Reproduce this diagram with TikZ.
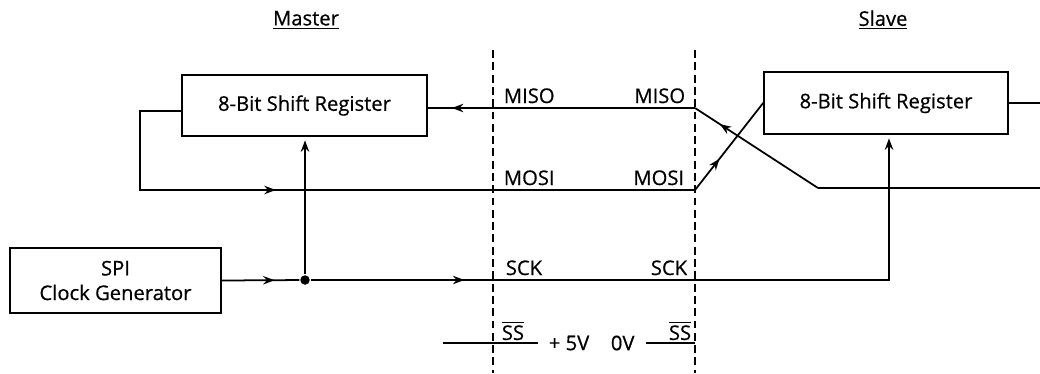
\documentclass[tikz,border=0pt]{standalone}
\usepackage{fontspec}
\setmainfont{Open Sans}[FakeBold=0.6]
\usetikzlibrary{arrows.meta, decorations.markings}

\begin{document}
\begin{tikzpicture}[x=0.02cm, y=-0.02cm, >={Stealth[length=6.5pt,width=4.8pt]},
  line width=1pt,
  every node/.style={font=\fontsize{11.5}{14}\selectfont, inner sep=0pt},
  regbox/.style={draw, rectangle, align=center, minimum height=1.22cm},
  midarrow/.style={postaction={decorate}, decoration={markings, mark=at position #1 with {\arrow{>}}}},
  divider/.style={dash pattern=on 4.5pt off 2.5pt}]
  \useasboundingbox (0,0) rectangle (1040,373);
  \node (master) at (306,20) {\underline{Master}};
  \node (slave) at (883,20) {\underline{Slave}};
  \node[regbox, minimum width=4.9cm] (mreg) at (304.5,105.5) {8-Bit Shift Register};
  \node[regbox, minimum width=4.88cm, minimum height=1.24cm] (sreg) at (886,103) {8-Bit Shift Register};
  \node[regbox, minimum width=4.22cm, minimum height=1.3cm] (clk) at (115.5,280.5) {SPI\\Clock Generator};
  \coordinate (d1t) at (493,50); \coordinate (d1b) at (493,373);
  \coordinate (d2t) at (695,50); \coordinate (d2b) at (695,373);
  \draw[divider] (d1t) -- (d1b);
  \draw[divider] (d2t) -- (d2b);
  \coordinate (miso) at (695,108);
  \coordinate (mosi) at (695,190);
  \coordinate (sck) at (695,280);
  \coordinate (xr) at (818,188);
  \coordinate (rlo) at (1040,188);
  \coordinate (rhi) at (1040,103);
  \coordinate (loopl) at (140,111);
  \coordinate (loopb) at (140,190);
  \coordinate (sckr) at (889,280);
  \draw[midarrow=0.91] (miso) -- (mreg.east |- miso);
  \draw (rlo) -- (xr);
  \draw[midarrow=0.8] (xr) -- (miso);
  \draw[midarrow=0.379] (mreg.west |- loopl) -- (loopl) -- (loopb) -- (mosi);
  \draw[midarrow=0.36] (mosi) -- (sreg.west);
  \draw (sreg.east |- rhi) -- (rhi);
  \node[circle, fill, minimum size=5.4pt] (tap) at (305,280) {};
  \draw[midarrow=0.68] (clk.east) -- (tap);
  \draw[->, shorten >=2pt] (tap) -- (mreg.south -| tap);
  \draw[midarrow=0.4] (tap) -- (sck);
  \draw[->, shorten >=2pt] (sck) -- (sckr) -- (sreg.south -| sckr);
  \node[anchor=base west] (misol) at (503,103) {MISO};
  \node[anchor=base east] (misor) at (686,103) {MISO};
  \node[anchor=base west] (mosil) at (503,185) {MOSI};
  \node[anchor=base east] (mosir) at (685,185) {MOSI};
  \node[anchor=base west] (sckl) at (505,275) {SCK};
  \node[anchor=base east] (sckrl) at (688,275) {SCK};
  \coordinate (ssl) at (443,343); \coordinate (ssr) at (538,343);
  \draw (ssl) -- (ssr);
  \node[anchor=south west] (ssa) at (501,341) {$\overline{\mbox{SS}}$};
  \node[anchor=west] (plus) at (548,343) {+ 5V};
  \node[anchor=west] (zero) at (610,343) {0V};
  \coordinate (ssq) at (646,343); \coordinate (sse) at (695,343);
  \draw (ssq) -- (sse);
  \node[anchor=south east] (ssb) at (692,341) {$\overline{\mbox{SS}}$};
\end{tikzpicture}
\end{document}
